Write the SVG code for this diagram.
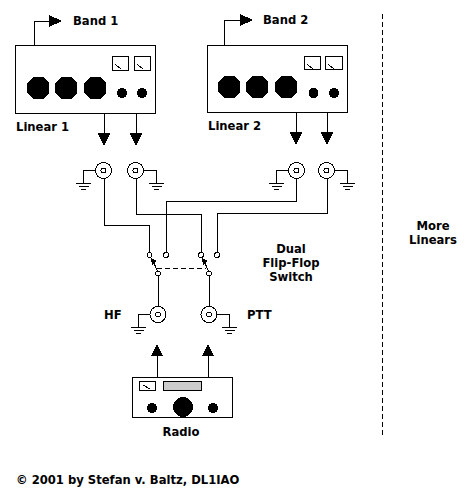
<svg xmlns="http://www.w3.org/2000/svg" width="471" height="497" viewBox="0 0 471 497" shape-rendering="crispEdges">
<style>
text{font-family:"DejaVu Sans",Verdana,sans-serif;font-size:11.600px;font-weight:bold;fill:#000}
.m{text-anchor:middle}
.l{fill:none;stroke:#000;stroke-width:1}
.b{fill:#fff;stroke:#000;stroke-width:1}
.k{fill:#000;stroke:none}
.d{fill:none;stroke:#000;stroke-width:1;stroke-dasharray:5 3}
</style>
<defs>
<polygon id="oct" class="k" points="-5,-11 5,-11 11,-5 11,5 5,11 -5,11 -11,5 -11,-5"/>
<polygon id="down" class="k" points="-6.500,0 6.500,0 0,13"/>
<polygon id="up" class="k" points="-6,12 6,12 0,0"/>
<polygon id="right" class="k" points="0,-6 13,0 0,6"/>
<g id="gnd"><path class="l" d="M-7.500 .5H7.500M-5 3.500H5M-2.500 6.500H2.500"/></g>
<g id="bnc"><circle class="b" r="8"/><circle class="b" r="2.500"/></g>
<g id="meter"><path class="l" d="M3 8L9 13"/></g>
</defs>
<g id="linear1">
<rect class="b" x="15.500" y="45.500" width="140" height="68"/>
<rect class="b" x="112.500" y="56.500" width="16" height="14"/><use href="#meter" x="112.500" y="56.500"/>
<rect class="b" x="134.500" y="56.500" width="16" height="14"/><use href="#meter" x="134.500" y="56.500"/>
<use href="#oct" x="38" y="88"/><use href="#oct" x="66" y="88"/><use href="#oct" x="95" y="88"/>
<circle class="k" cx="122" cy="93" r="5"/><circle class="k" cx="142" cy="93" r="5"/>
<text x="16" y="131">Linear 1</text>
</g>
<g id="linear2">
<rect class="b" x="207.500" y="45.500" width="140" height="67"/>
<rect class="b" x="304.500" y="56.500" width="16" height="13"/><use href="#meter" x="304.500" y="56.500"/>
<rect class="b" x="325.500" y="56.500" width="17" height="13"/><use href="#meter" x="325.500" y="56.500"/>
<use href="#oct" x="229" y="87"/><use href="#oct" x="257" y="87"/><use href="#oct" x="286" y="87"/>
<circle class="k" cx="313.500" cy="93" r="5"/><circle class="k" cx="334" cy="93" r="5"/>
<text x="208" y="130">Linear 2</text>
</g>
<g id="radio">
<rect class="b" x="132.500" y="377.500" width="100" height="40"/>
<rect class="b" x="139.500" y="381.500" width="16" height="9"/><path class="l" d="M143 385L150 389"/>
<rect x="163.500" y="381.500" width="38" height="9" fill="#ccc" stroke="#000"/>
<circle class="k" cx="152" cy="408" r="5"/><circle class="k" cx="183" cy="407" r="10"/><circle class="k" cx="213" cy="408" r="5"/>
<text class="m" x="181" y="436">Radio</text>
</g>
<g id="connectors">
<path class="l" d="M34.500 46V21.500H50"/><use href="#right" x="49" y="21"/>
<path class="l" d="M224.500 45V20.500H241"/><use href="#right" x="240" y="20"/>
<path class="l" d="M104.500 113V134M136.500 113V134M296.500 112V133M327.500 112V133"/>
<use href="#down" x="104" y="133"/><use href="#down" x="136" y="133"/><use href="#down" x="296" y="132"/><use href="#down" x="327" y="132"/>
<path class="l" d="M104.500 178V225.500H149.500V252"/>
<path class="l" d="M136.500 178V214.500H201.500V252"/>
<path class="l" d="M296.500 178V201.500H166.500V252"/>
<path class="l" d="M327.500 178V213.500H217.500V252"/>
<path class="l" d="M158.500 276V306M209.500 276V306"/>
<path class="l" d="M157.500 356V377M208.500 356V377"/>
<use href="#up" x="157" y="344"/><use href="#up" x="208" y="344"/>
<path class="l" d="M95 170.500H83.500V183M144 170.500H156.500V183M288 170.500H276.500V183M335 170.500H347.500V183M150 314.500H138.500V327M217 314.500H229.500V327"/>
<path class="l" d="M157.500 271L152 259M208.500 271L203 259"/>
<polygon class="k" points="151,258 157,261 152,265"/><polygon class="k" points="202,258 208,261 203,265"/>
<path class="d" d="M157 268.500H206"/>
<path class="d" d="M382.500 14V436"/>
</g>
<g id="jacks">
<use href="#bnc" x="103.500" y="170.500"/><use href="#bnc" x="135.500" y="170.500"/><use href="#bnc" x="296.500" y="170.500"/><use href="#bnc" x="326.500" y="170.500"/>
<use href="#bnc" x="158" y="314.500"/><use href="#bnc" x="209" y="314.500"/>
<use href="#gnd" x="83.500" y="183"/><use href="#gnd" x="156.500" y="183"/><use href="#gnd" x="276.500" y="183"/><use href="#gnd" x="347.500" y="183"/>
<use href="#gnd" x="138.500" y="327"/><use href="#gnd" x="229.500" y="327"/>
</g>
<g id="switch">
<circle class="b" cx="149.500" cy="255" r="2.500"/><circle class="b" cx="166" cy="255" r="2.500"/><circle class="b" cx="201" cy="255" r="2.500"/><circle class="b" cx="217" cy="255" r="2.500"/>
<circle class="b" cx="158" cy="273.500" r="2.500"/><circle class="b" cx="209" cy="273.500" r="2.500"/>
</g>
<g id="labels">
<text x="73" y="25">Band 1</text>
<text x="263" y="24">Band 2</text>
<text class="m" x="291" y="253">Dual</text>
<text class="m" x="291" y="267">Flip-Flop</text>
<text class="m" x="291" y="281">Switch</text>
<text x="104" y="319">HF</text>
<text x="247" y="319">PTT</text>
<text class="m" x="433" y="230">More</text>
<text class="m" x="433" y="244">Linears</text>
<text x="16" y="484">© 2001 by Stefan v. Baltz, DL1IAO</text>
</g>
</svg>
